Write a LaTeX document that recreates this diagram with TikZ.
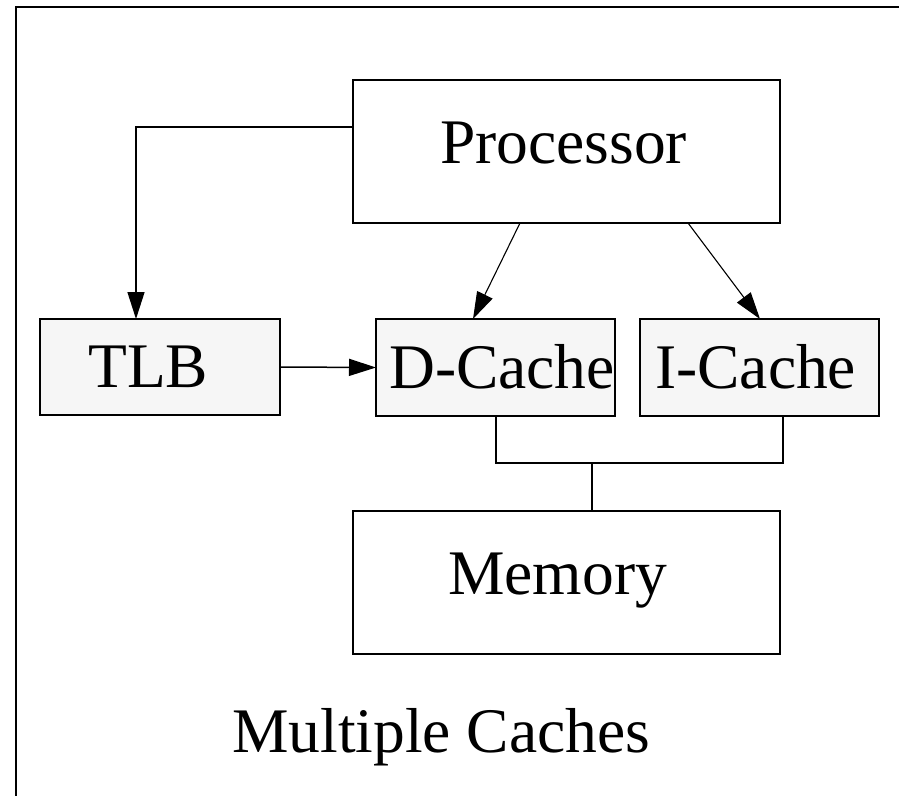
\documentclass[tikz,border=0pt]{standalone}
\usepackage{fontspec}
\setmainfont{Liberation Serif}
\usetikzlibrary{arrows.meta}
\definecolor{boxfill}{RGB}{246,246,246}
\begin{document}
\begin{tikzpicture}[x=1pt,y=-1pt,
  unit/.style={draw, line width=2pt, inner sep=0pt, outer sep=0pt},
  bigunit/.style={unit, fill=white, minimum width=427pt, minimum height=143pt},
  smallunit/.style={unit, fill=boxfill, minimum width=239pt, minimum height=97pt},
  lbl/.style={anchor=base west, inner sep=0pt, font=\fontsize{63.5}{70}\selectfont},
  wire/.style={line width=1.5pt},
  flow/.style={wire, -{Triangle[length=27pt,width=17pt]}},
  thinflow/.style={line width=1.1pt, -{Triangle[length=27pt,width=17pt]}}]
\useasboundingbox (0,0) rectangle (899,795);

% outer frame (only its top and left edges fall inside the page)
\draw[line width=2pt] (16,805) -- (16,7) -- (910,7);

% units
\node[bigunit]   (proc) at (566.5,151.5) {};
\node[smallunit, minimum width=240pt, minimum height=96pt] (tlb) at (160,367) {};
\node[smallunit] (dc)   at (495.5,367.5) {};
\node[smallunit] (ic)   at (759.5,367.5) {};
\node[bigunit]   (mem)  at (566.5,582.5) {};

% labels
\node[lbl] (proct) at (440,163) {Processor};
\node[lbl] (tlbt)  at (88,387)  {TLB};
\node[lbl] (dct)   at (389,388) {D-Cache};
\node[lbl] (ict)   at (655,388) {I-Cache};
\node[lbl] (memt)  at (448,594) {Memory};
\node[lbl] (title) at (232,752.5) {Multiple Caches};

% connectors
\draw[flow] ([yshift=24.5pt]proc.west) -| ([xshift=-24pt]tlb.north);
\draw[flow] (tlb.east) -- (dc.west);
\draw[thinflow] ([xshift=-46.5pt]proc.south) -- ([xshift=-22.5pt]dc.north);
\draw[thinflow] ([xshift=121.5pt]proc.south) -- ([xshift=0.5pt]ic.north);

% shared bus to memory
\coordinate (bus) at (592,463);
\draw[wire] ([xshift=0.5pt]dc.south) |- (bus) -| ([xshift=23.5pt]ic.south);
\draw[wire] (bus) -- (bus |- mem.north);
\end{tikzpicture}
\end{document}
